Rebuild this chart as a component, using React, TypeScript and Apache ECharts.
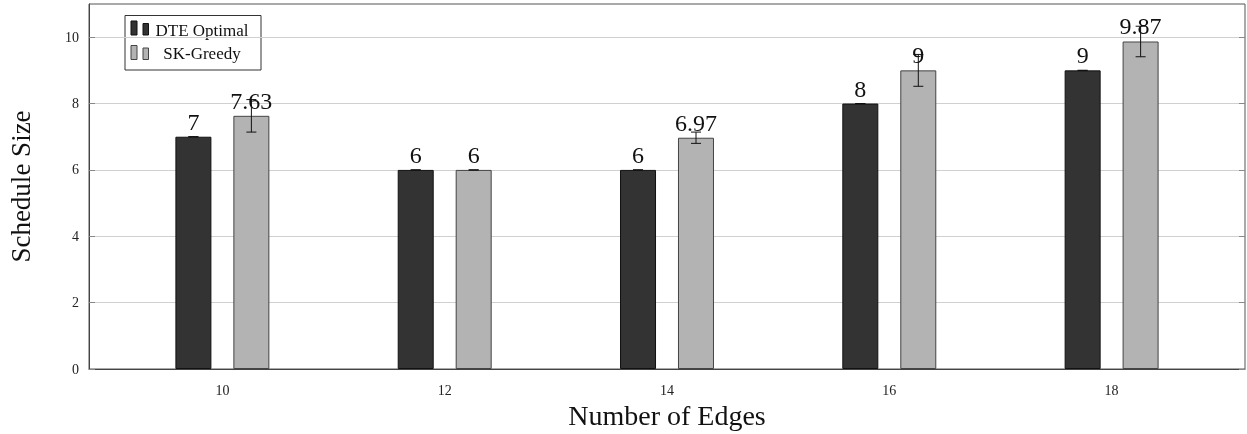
import React, { useEffect, useRef } from "react";
import * as echarts from "echarts";

const edges = [10, 12, 14, 16, 18];
const dteValues = [7, 6, 6, 8, 9];
const dteErrors = [0, 0, 0, 0, 0];
const skValues = [7.63, 6, 6.97, 9, 9.87];
const skErrors = [0.49, 0, 0.17, 0.48, 0.46];
const yTicks = [0, 2, 4, 6, 8, 10];
const seriesNames = ["DTE Optimal", "SK-Greedy"];

const FONT = "'Liberation Serif', 'Times New Roman', serif";
const DARK = "#333333";
const LIGHT = "#b3b3b3";
const BAR_OFFSET = 29;

function errorSeries(values: number[], errors: number[], offset: number) {
  return {
    type: "custom",
    silent: true,
    z: 5,
    data: edges.map((x, i) => [x, values[i], errors[i]]),
    renderItem: (params: any, api: any) => {
      const x = api.value(0);
      const v = api.value(1);
      const e = api.value(2);
      const top = api.coord([x, v + e]);
      const bot = api.coord([x, v - e]);
      const cx = top[0] + offset;
      const half = 5;
      const st = { stroke: "#111", lineWidth: 1 };
      return {
        type: "group",
        children: [
          { type: "line", shape: { x1: cx, y1: top[1], x2: cx, y2: bot[1] }, style: st },
          { type: "line", shape: { x1: cx - half, y1: top[1], x2: cx + half, y2: top[1] }, style: st },
          { type: "line", shape: { x1: cx - half, y1: bot[1], x2: cx + half, y2: bot[1] }, style: st },
        ],
      };
    },
  };
}

export default function App() {
  const ref = useRef<HTMLDivElement>(null);
  useEffect(() => {
    if (!ref.current) return;
    const chart = echarts.init(ref.current, undefined, { renderer: "svg" });
    const labelOpt = {
      show: true,
      position: "top",
      distance: 3,
      fontFamily: FONT,
      fontSize: 24,
      color: "#111",
      formatter: (p: any) => String(p.value[1]),
    };
    chart.setOption({
      animation: false,
      textStyle: { fontFamily: FONT },
      grid: {
        left: 89,
        right: 2,
        top: 4,
        bottom: 65,
        containLabel: false,
        outerBoundsMode: "none",
        show: true,
        borderColor: "#555",
        borderWidth: 1,
        backgroundColor: "transparent",
      },
      xAxis: {
        type: "value",
        min: 8.8,
        max: 19.2,
        name: "Number of Edges",
        nameLocation: "middle",
        nameGap: 32,
        nameTextStyle: { fontFamily: FONT, fontSize: 28, color: "#111" },
        axisLine: { show: true, lineStyle: { color: "#444" } },
        axisTick: { show: false },
        splitLine: { show: false },
        axisLabel: {
          customValues: edges,
          fontFamily: FONT,
          fontSize: 14,
          color: "#222",
          margin: 14,
        },
      },
      yAxis: [
        {
          type: "value",
          min: 0,
          max: 11,
          name: "Schedule Size",
          nameLocation: "middle",
          nameGap: 55,
          nameTextStyle: { fontFamily: FONT, fontSize: 27, color: "#111" },
          axisLine: { show: true, lineStyle: { color: "#444" } },
          axisTick: {
            show: true,
            inside: true,
            length: 6,
            customValues: yTicks,
            lineStyle: { color: "#888" },
          },
          axisLabel: {
            customValues: yTicks,
            fontFamily: FONT,
            fontSize: 14,
            color: "#222",
            margin: 10,
          },
          splitLine: { show: true, lineStyle: { color: "#d0d0d0" } },
        },
        {
          type: "value",
          min: 0,
          max: 11,
          position: "right",
          axisLine: { show: false },
          axisTick: {
            show: true,
            inside: true,
            length: 6,
            customValues: yTicks,
            lineStyle: { color: "#888" },
          },
          axisLabel: { show: false },
          splitLine: { show: false },
        },
      ],
      series: [
        {
          name: seriesNames[0],
          type: "bar",
          barWidth: 36,
          barGap: "61%",
          data: edges.map((x, i) => [x, dteValues[i]]),
          itemStyle: { color: DARK, borderColor: "#111", borderWidth: 1 },
          label: labelOpt,
        },
        {
          name: seriesNames[1],
          type: "bar",
          barWidth: 36,
          barGap: "61%",
          data: edges.map((x, i) => [x, skValues[i]]),
          itemStyle: { color: LIGHT, borderColor: "#444", borderWidth: 1 },
          label: labelOpt,
        },
        errorSeries(dteValues, dteErrors, -BAR_OFFSET),
        errorSeries(skValues, skErrors, BAR_OFFSET),
      ],
      graphic: [
        {
          type: "group",
          z: 100,
          children: [
            { type: "rect", shape: { x: 125, y: 15.5, width: 136, height: 54.5 }, style: { fill: "#fff", stroke: "#333", lineWidth: 1 } },
            { type: "rect", shape: { x: 131, y: 21, width: 6, height: 14 }, style: { fill: DARK, stroke: "#111", lineWidth: 1 } },
            { type: "rect", shape: { x: 143, y: 23.5, width: 5.5, height: 11.5 }, style: { fill: DARK, stroke: "#111", lineWidth: 1 } },
            { type: "text", style: { x: 202, y: 30, text: seriesNames[0], align: "center", verticalAlign: "middle", fontFamily: FONT, fontSize: 17, fill: "#111" } },
            { type: "rect", shape: { x: 131, y: 45.5, width: 6, height: 14 }, style: { fill: LIGHT, stroke: "#444", lineWidth: 1 } },
            { type: "rect", shape: { x: 143, y: 48, width: 5.5, height: 11.5 }, style: { fill: LIGHT, stroke: "#444", lineWidth: 1 } },
            { type: "text", style: { x: 202, y: 53, text: seriesNames[1], align: "center", verticalAlign: "middle", fontFamily: FONT, fontSize: 17, fill: "#111" } },
          ],
        },
      ],
    });
    return () => chart.dispose();
  }, []);
  return (
    <div
      ref={ref}
      style={{ position: "fixed", left: 0, top: 0, width: 1247, height: 434 }}
    />
  );
}
